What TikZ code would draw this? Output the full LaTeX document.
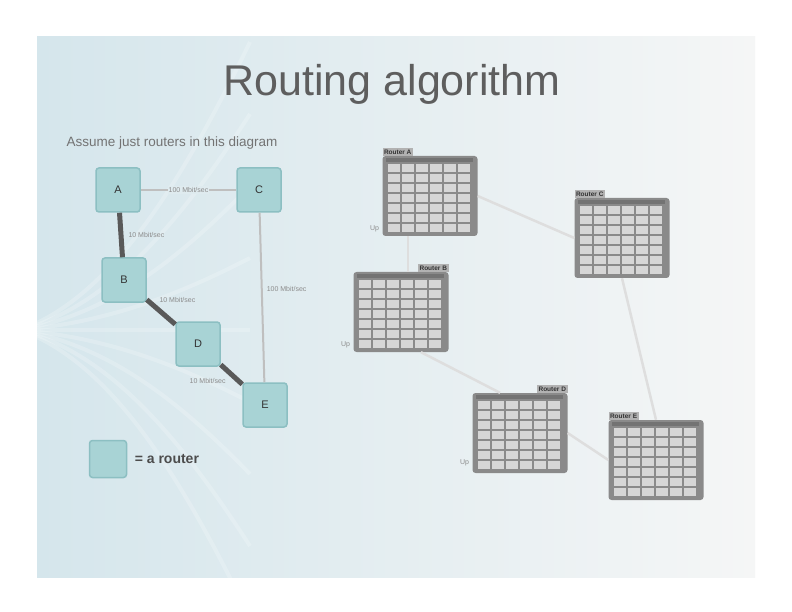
\documentclass[tikz,border=0pt]{standalone}
\usepackage{fontspec}
\setmainfont{Liberation Sans}
\usetikzlibrary{positioning}

\definecolor{slideleft}{HTML}{D5E6EC}
\definecolor{slideright}{HTML}{F5F6F6}
\definecolor{labelbg}{HTML}{DFEBEF}
\definecolor{routerfill}{HTML}{A8D3D5}
\definecolor{routerline}{HTML}{8CBFC2}
\definecolor{titlegray}{HTML}{5E5E5E}
\definecolor{tablegray}{HTML}{8A8A8A}
\definecolor{cellgray}{HTML}{D6D6D6}

\begin{document}
\begin{tikzpicture}[
		x=1pt, y=-1pt,
		router/.style={rectangle, rounded corners=3pt, fill=routerfill, draw=routerline, line width=1.5pt, minimum size=44pt, inner sep=0pt, font=\fontsize{11}{11}\selectfont, text=black!80},
		fastlink/.style={line width=5pt, black!65},
		slowlink/.style={line width=2pt, black!25},
		linklabel/.style={font=\fontsize{7}{7}\selectfont, text=black!45, inner sep=1pt},
		tablebox/.style={rectangle, rounded corners=3pt, fill=tablegray, minimum width=95pt, minimum height=80pt, inner sep=0pt},
		tabletab/.style={font=\fontsize{6.5}{6.5}\selectfont\bfseries, text=black!80, fill=black!30, inner sep=1.5pt},
		tablelink/.style={line width=2.5pt, black!13}
		]
		
		% Slide background
		\useasboundingbox (0,0) rectangle (792,612);
		\fill[white] (0,0) rectangle (792,612);
		\shade[left color=slideleft, right color=slideright] (37,37) rectangle (755,577);
		\begin{scope}
			\clip (37,37) rectangle (755,577);
			\foreach \d in {-160,-120,...,160} {
				\draw[white, opacity=0.2, line width=4pt] (20,330) .. controls (110,330+0.2*\d) and (180,330+0.9*\d) .. (250,330+1.8*\d);
			}
		\end{scope}
		
		% Title / intro
		\node[font=\fontsize{43}{43}\selectfont, text=titlegray] (title) at (392,84) {Routing algorithm};
		\node[anchor=west, font=\fontsize{13.5}{13.5}\selectfont, text=black!55] (intro) at (63,143) {Assume just routers in this diagram};
		
		% Routers
		\node[router] (A) at (118,190) {A};
		\node[router] (C) at (259,190) {C};
		\node[router] (B) at (124,280) {B};
		\node[router] (D) at (198,344) {D};
		\node[router] (E) at (265,405) {E};
		
		% Links
		\draw[slowlink] (A) -- node[linklabel, fill=labelbg] (lAC) {100 Mbit/sec} (C);
		\draw[slowlink] (C) -- node[linklabel, right=3pt, pos=0.45] (lCE) {100 Mbit/sec} (E);
		\draw[fastlink] (A) -- node[linklabel, right=4pt] (lAB) {10 Mbit/sec} (B);
		\draw[fastlink] (B) -- node[linklabel, above right=1pt, pos=0.3] (lBD) {10 Mbit/sec} (D);
		\draw[fastlink] (D) -- node[linklabel, below left=2pt, pos=0.45] (lDE) {10 Mbit/sec} (E);
		
		% Key
		\node[router, minimum size=37pt] (key) at (108,459) {};
		\node[right=4pt of key, font=\fontsize{14}{14}\selectfont\bfseries, text=black!70] (keytext) {= a router};
		
		% Routing tables
		\foreach \n/\x/\y/\s in {A/430/196/west, C/622/238/west, B/401/312/east, D/520/433/east, E/656/460/west} {
			\node[tablebox] (t\n) at (\x,\y) {};
			\node[tabletab, anchor=south \s] (tab\n) at (t\n.north \s) {Router \n};
			\begin{scope}[shift={(t\n.north west)}]
				\fill[black!55] (4,2) rectangle (91,6);
				\foreach \i in {0,...,5} {
					\foreach \j in {0,...,6} {
						\fill[cellgray] (6+\i*14,8+\j*10) rectangle (18+\i*14,16+\j*10);
					}
				}
			\end{scope}
		}
		
		% Table links
		\draw[tablelink] ([xshift=-22pt]tA.south) -- ([xshift=7pt]tB.north);
		\draw[tablelink] (tA.east) -- (tC.west);
		\draw[tablelink] (tC.south) -- (tE.north);
		\draw[tablelink] ([xshift=20pt]tB.south) -- ([xshift=-20pt]tD.north);
		\draw[tablelink] (tD.east) -- (tE.west);
		
		% Up markers
		\node[linklabel, left=2pt] (upA) at ([yshift=7pt]tA.south west) {Up};
		\node[linklabel, left=2pt] (upB) at ([yshift=7pt]tB.south west) {Up};
		\node[linklabel, left=2pt] (upD) at ([yshift=10pt]tD.south west) {Up};
		
	\end{tikzpicture}
\end{document}
